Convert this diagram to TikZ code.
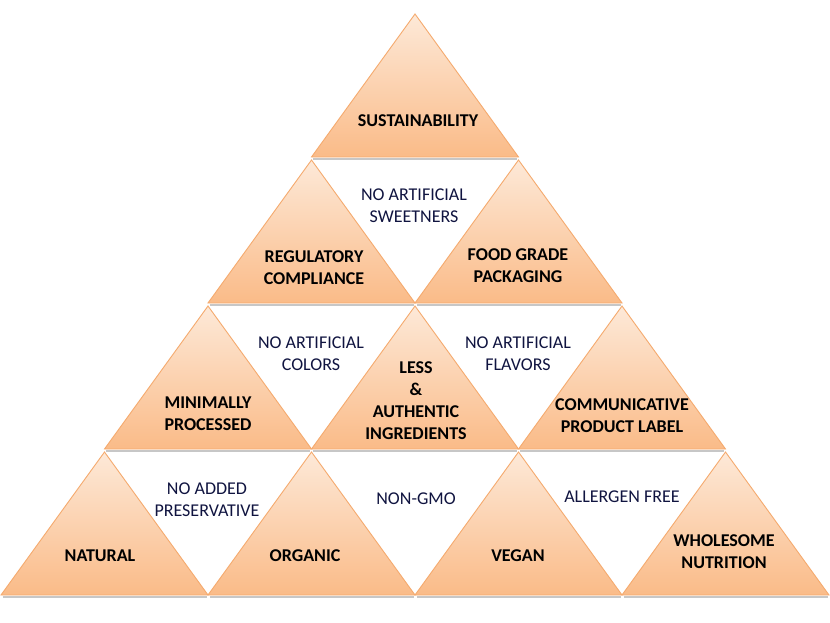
\documentclass[tikz,border=0pt]{standalone}
\usepackage{fontspec}
\setmainfont{Carlito}
\definecolor{triorange}{RGB}{245,170,110}
\definecolor{trilight}{RGB}{253,233,216}
\definecolor{tridark}{RGB}{250,187,136}
\definecolor{labelnavy}{RGB}{16,20,64}
\usetikzlibrary{positioning}

\tikzset{
  tri/.style={draw=triorange, line width=0.9pt, top color=trilight, bottom color=tridark},
  trishadow/.style={draw=black!22, line width=1.6pt},
  boldlabel/.style={font=\fontsize{18}{22}\selectfont\bfseries, align=center, inner sep=0pt},
  gaplabel/.style={font=\fontsize{18}{22}\selectfont, text=labelnavy, align=center, inner sep=0pt}
}

\begin{document}
\begin{tikzpicture}[x=1pt, y=-1pt]
  \useasboundingbox[fill=white] (0,0) rectangle (830,622);

  % Triangles, row by row from the top
  \foreach \row in {0,...,3} {
    \foreach \col in {0,...,\row} {
      \pgfmathsetmacro{\ax}{415+(2*\col-\row)*103.5}
      \pgfmathsetmacro{\ay}{14+146*\row}
      \draw[trishadow] (\ax-102,\ay+145) -- (\ax+102,\ay+145);
      \draw[tri] (\ax,\ay) -- (\ax+103.5,\ay+143) -- (\ax-103.5,\ay+143) -- cycle;
    }
  }

  % Row 1
  \node[boldlabel] (sustain) at (418,121) {SUSTAINABILITY};

  % Row 2
  \node[boldlabel] (regul) at (314,268) {REGULATORY\\COMPLIANCE};
  \node[gaplabel] (sweet) at (414,206) {NO ARTIFICIAL\\SWEETNERS};
  \node[boldlabel] (pack) at (518,266) {FOOD GRADE\\PACKAGING};

  % Row 3
  \node[boldlabel] (minproc) at (208,414) {MINIMALLY\\PROCESSED};
  \node[gaplabel] (colors) at (311,354) {NO ARTIFICIAL\\COLORS};
  \node[boldlabel] (authentic) at (416,401) {LESS\\\&\\AUTHENTIC\\INGREDIENTS};
  \node[gaplabel] (flavors) at (518,354) {NO ARTIFICIAL\\FLAVORS};
  \node[boldlabel] (prodlabel) at (622,416) {COMMUNICATIVE\\PRODUCT LABEL};

  % Row 4
  \node[boldlabel] (natural) at (100,556) {NATURAL};
  \node[gaplabel] (preserv) at (207,500) {NO ADDED\\PRESERVATIVE};
  \node[boldlabel] (organic) at (305,556) {ORGANIC};
  \node[gaplabel] (nongmo) at (416,499) {NON-GMO};
  \node[boldlabel] (vegan) at (518,556) {VEGAN};
  \node[gaplabel] (allergen) at (622,497) {ALLERGEN FREE};
  \node[boldlabel] (wholesome) at (724,552) {WHOLESOME\\NUTRITION};
\end{tikzpicture}
\end{document}
